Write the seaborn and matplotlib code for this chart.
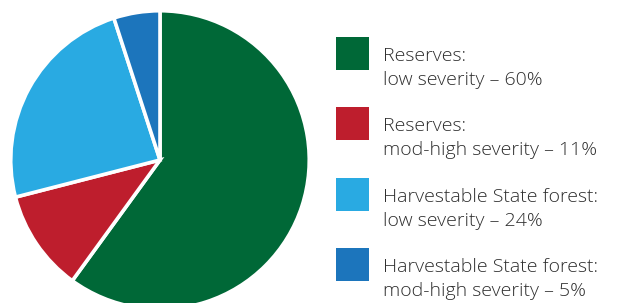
import matplotlib
matplotlib.use("Agg")
import matplotlib.pyplot as plt
import seaborn as sns
from matplotlib.patches import Rectangle

# ── Data ──────────────────────────────────────────────────────────────────────
groups = ["Reserves:", "Reserves:", "Harvestable State forest:", "Harvestable State forest:"]
severity = ["low severity", "mod-high severity", "low severity", "mod-high severity"]
shares = [60, 11, 24, 5]
colours = ["#006837", "#BE1E2D", "#29AAE2", "#1C75BC"]

# ── Style ─────────────────────────────────────────────────────────────────────
sns.set_theme(style="white")
plt.rcParams["font.family"] = ["Open Sans", "DejaVu Sans"]
palette = sns.color_palette(colours)

W, H = 619, 303
fig = plt.figure(figsize=(W / 100, H / 100), dpi=100)

# ── Pie ───────────────────────────────────────────────────────────────────────
cx, cy, r = 160, 160, 150   # pixels, y from top
ax = fig.add_axes([(cx - r) / W, (H - cy - r) / H, 2 * r / W, 2 * r / H])
ax.pie(
    shares,
    colors=palette,
    startangle=90,
    counterclock=False,
    radius=1,
    wedgeprops=dict(edgecolor="white", linewidth=2.6),
)
ax.set_xlim(-1.005, 1.005)
ax.set_ylim(-1.005, 1.005)
ax.set_axis_off()

# ── Legend (drawn by hand) ────────────────────────────────────────────────────
x_box, box = 336, 33
x_text = 383
text_col = "#2e2e2e"
fs = 14
for i, (g, s, v, c) in enumerate(zip(groups, severity, shares, palette)):
    top = 37 + 70.3 * i
    fig.patches.append(Rectangle(
        (x_box / W, (H - top - box) / H), box / W, box / H,
        transform=fig.transFigure, facecolor=c, edgecolor="none"))
    fig.text(x_text / W, (H - top - 24) / H, g, fontsize=fs, fontweight="light",
             color=text_col, va="baseline", ha="left")
    fig.text(x_text / W, (H - top - 48) / H, f"{s} \u2013 {v}%", fontsize=fs,
             fontweight="light", color=text_col, va="baseline", ha="left")

fig.savefig("out.png", dpi=100)
